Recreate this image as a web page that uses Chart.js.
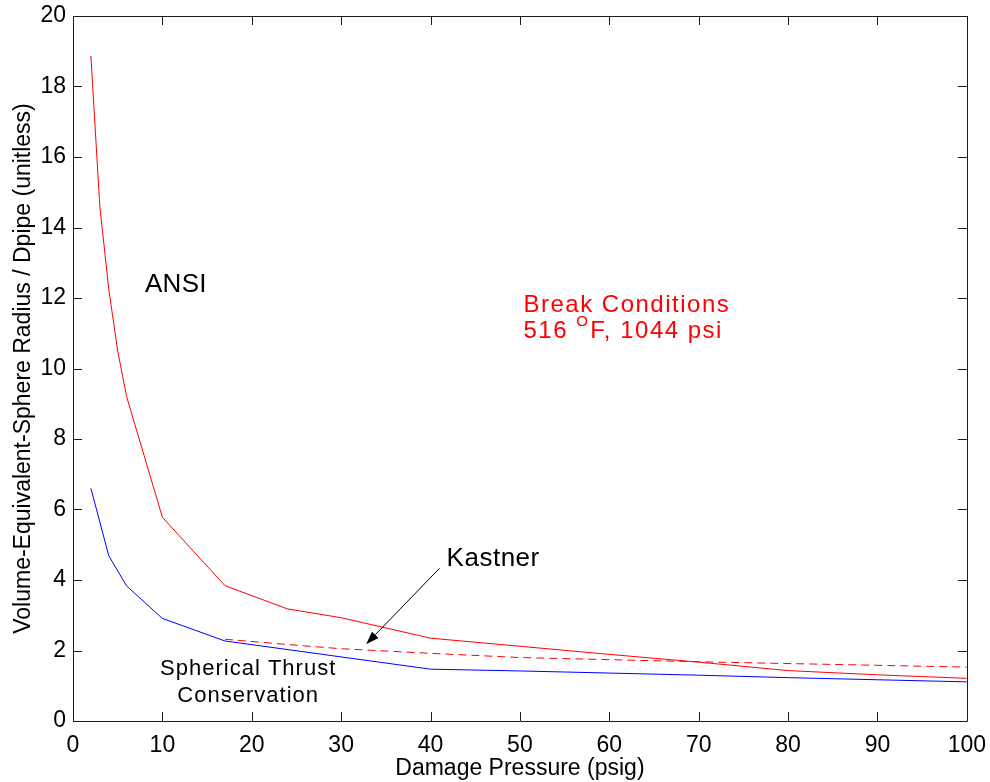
<!DOCTYPE html>
<html>
<head>
<meta charset="utf-8">
<script src="https://cdn.jsdelivr.net/npm/chart.js@4.4.1/dist/chart.umd.min.js"></script>
<style>
  html, body { margin: 0; padding: 0; background: #fff; }
  #wrap { width: 990px; height: 782px; position: relative; }
</style>
</head>
<body>
<div id="wrap"><canvas id="chart"></canvas></div>
<script>
// ── Data ─────────────────────────────────────────────────────────────────────

// damage pressure (psig) vs. equivalent sphere radius / Dpipe
const ansiP    = [2, 3, 4, 5, 6, 10, 17, 24, 30, 40, 50, 60, 70, 80, 90, 100];
const ansiR    = [18.87, 14.6, 12.25, 10.5, 9.2, 5.78, 3.84, 3.18, 2.93, 2.35, 2.12, 1.89, 1.67, 1.43, 1.31, 1.21];

const thrustP  = [2, 4, 6, 10, 17, 40, 50, 60, 70, 80, 90, 100];
const thrustR  = [6.6, 4.69, 3.83, 2.91, 2.27, 1.47, 1.42, 1.36, 1.30, 1.23, 1.17, 1.11];

const kastnerP = [17, 24, 30, 40, 50, 60, 70, 80, 90, 100];
const kastnerR = [2.32, 2.17, 2.05, 1.92, 1.80, 1.74, 1.68, 1.63, 1.58, 1.53];

const xTicks = [0, 10, 20, 30, 40, 50, 60, 70, 80, 90, 100];
const yTicks = [0, 2, 4, 6, 8, 10, 12, 14, 16, 18, 20];

// ── Helpers ──────────────────────────────────────────────────────────────────

const FONT = "'Liberation Sans', Arial, Helvetica, sans-serif";
const AXIS = '#1a1a1a';

const pts = (xs, ys) => xs.map((v, i) => ({ x: v, y: ys[i] }));

function text(ctx, str, px, py, size, opts = {}) {
  ctx.save();
  ctx.font = `${size}px ${FONT}`;
  ctx.fillStyle = opts.color || '#000';
  ctx.textAlign = opts.align || 'left';
  ctx.textBaseline = 'middle';
  ctx.letterSpacing = (opts.spacing || 0) + 'px';
  ctx.fillText(str, px, py);
  const w = ctx.measureText(str).width;
  ctx.restore();
  return w;
}

// frame with inward ticks on all four sides, labels and the Kastner arrow
const decorations = {
  id: 'decorations',
  afterDraw(chart) {
    const { ctx, chartArea: a, scales: { x, y } } = chart;
    const TL = 9;

    ctx.save();
    ctx.strokeStyle = AXIS;
    ctx.lineWidth = 1;
    ctx.beginPath();
    ctx.rect(Math.round(a.left) + 0.5, Math.round(a.top) + 0.5,
             Math.round(a.right - a.left), Math.round(a.bottom - a.top));
    xTicks.forEach(v => {
      const px = Math.round(x.getPixelForValue(v)) + 0.5;
      ctx.moveTo(px, a.bottom); ctx.lineTo(px, a.bottom - TL);
      ctx.moveTo(px, a.top);    ctx.lineTo(px, a.top + TL);
    });
    yTicks.forEach(v => {
      const py = Math.round(y.getPixelForValue(v)) + 0.5;
      ctx.moveTo(a.left, py);  ctx.lineTo(a.left + TL, py);
      ctx.moveTo(a.right, py); ctx.lineTo(a.right - TL, py);
    });
    ctx.stroke();
    ctx.restore();

    // curve labels
    text(ctx, 'ANSI', x.getPixelForValue(8.05), y.getPixelForValue(12.37), 26, { spacing: 0.3 });
    text(ctx, 'Kastner', x.getPixelForValue(41.8), y.getPixelForValue(4.61), 26, { spacing: 0.5 });
    text(ctx, 'Spherical Thrust', x.getPixelForValue(19.6), y.getPixelForValue(1.475), 22, { align: 'center', spacing: 1 });
    text(ctx, 'Conservation', x.getPixelForValue(19.6), y.getPixelForValue(0.71), 22, { align: 'center', spacing: 1 });

    // break conditions note, with a raised degree "O"
    const red = { color: '#ff0000', spacing: 1.5 };
    const bx = x.getPixelForValue(50.4);
    text(ctx, 'Break Conditions', bx, y.getPixelForValue(11.79), 24, red);
    let cx = bx;
    const ly = y.getPixelForValue(11.04);
    cx += text(ctx, '516 ', cx, ly, 24, red);
    cx += text(ctx, 'O', cx, ly - 10, 15, red) + 1;
    text(ctx, 'F, 1044 psi', cx, ly, 24, red);

    // arrow pointing at the Kastner curve
    const x0 = x.getPixelForValue(41.0), y0 = y.getPixelForValue(4.33);
    const x1 = x.getPixelForValue(32.8), y1 = y.getPixelForValue(2.18);
    const ang = Math.atan2(y1 - y0, x1 - x0);
    const hl = 13, hw = 4.5;
    const bxh = x1 - hl * Math.cos(ang), byh = y1 - hl * Math.sin(ang);
    ctx.save();
    ctx.strokeStyle = '#000';
    ctx.fillStyle = '#000';
    ctx.lineWidth = 1;
    ctx.beginPath();
    ctx.moveTo(x0, y0);
    ctx.lineTo(bxh, byh);
    ctx.stroke();
    ctx.beginPath();
    ctx.moveTo(x1, y1);
    ctx.lineTo(bxh + hw * Math.sin(ang), byh - hw * Math.cos(ang));
    ctx.lineTo(bxh - hw * Math.sin(ang), byh + hw * Math.cos(ang));
    ctx.closePath();
    ctx.fill();
    ctx.restore();
  },
};

// ── Chart ────────────────────────────────────────────────────────────────────

const line = (data, color, dash) => ({
  data,
  showLine: true,
  borderColor: color,
  backgroundColor: color,
  borderWidth: 1,
  borderDash: dash || [],
  pointRadius: 0,
  tension: 0,
  fill: false,
});

// tick labels: half the end label + ticks.padding sets the outer margins,
// tickLength (not drawn) adds the rest of the gap from the frame
new Chart(document.getElementById('chart'), {
  type: 'scatter',
  data: {
    datasets: [
      line(pts(thrustP, thrustR), '#0000ff'),
      line(pts(kastnerP, kastnerR), '#ff0000', [8, 5]),
      line(pts(ansiP, ansiR), '#ff0000'),
    ],
  },
  options: {
    animation: false,
    responsive: true,
    maintainAspectRatio: false,
    devicePixelRatio: 1,
    layout: { padding: 0 },
    plugins: { legend: { display: false }, tooltip: { enabled: false } },
    scales: {
      x: {
        type: 'linear',
        min: 0, max: 100,
        afterBuildTicks: s => { s.ticks = xTicks.map(v => ({ value: v })); },
        afterFit: s => { s.height = 61; },
        grid: { display: false, drawTicks: true, tickLength: 7 },
        border: { display: false },
        ticks: { color: '#000', padding: 4, maxRotation: 0, font: { family: FONT, size: 23 } },
        title: {
          display: true,
          text: 'Damage Pressure (psig)',
          color: '#000',
          font: { family: FONT, size: 23, lineHeight: 1.2 },
          padding: { top: 0, bottom: 0 },
        },
      },
      y: {
        type: 'linear',
        min: 0, max: 20,
        afterBuildTicks: s => { s.ticks = yTicks.map(v => ({ value: v })); },
        afterFit: s => { s.width = 73; },
        grid: { display: false, drawTicks: true, tickLength: 4.8 },
        border: { display: false },
        ticks: { color: '#000', padding: 2.2, font: { family: FONT, size: 23 } },
        title: {
          display: true,
          text: 'Volume-Equivalent-Sphere Radius / Dpipe (unitless)',
          color: '#000',
          font: { family: FONT, size: 23, lineHeight: 1.2 },
          padding: { top: 10, bottom: 0 },
        },
      },
    },
  },
  plugins: [decorations],
});
</script>
</body>
</html>
